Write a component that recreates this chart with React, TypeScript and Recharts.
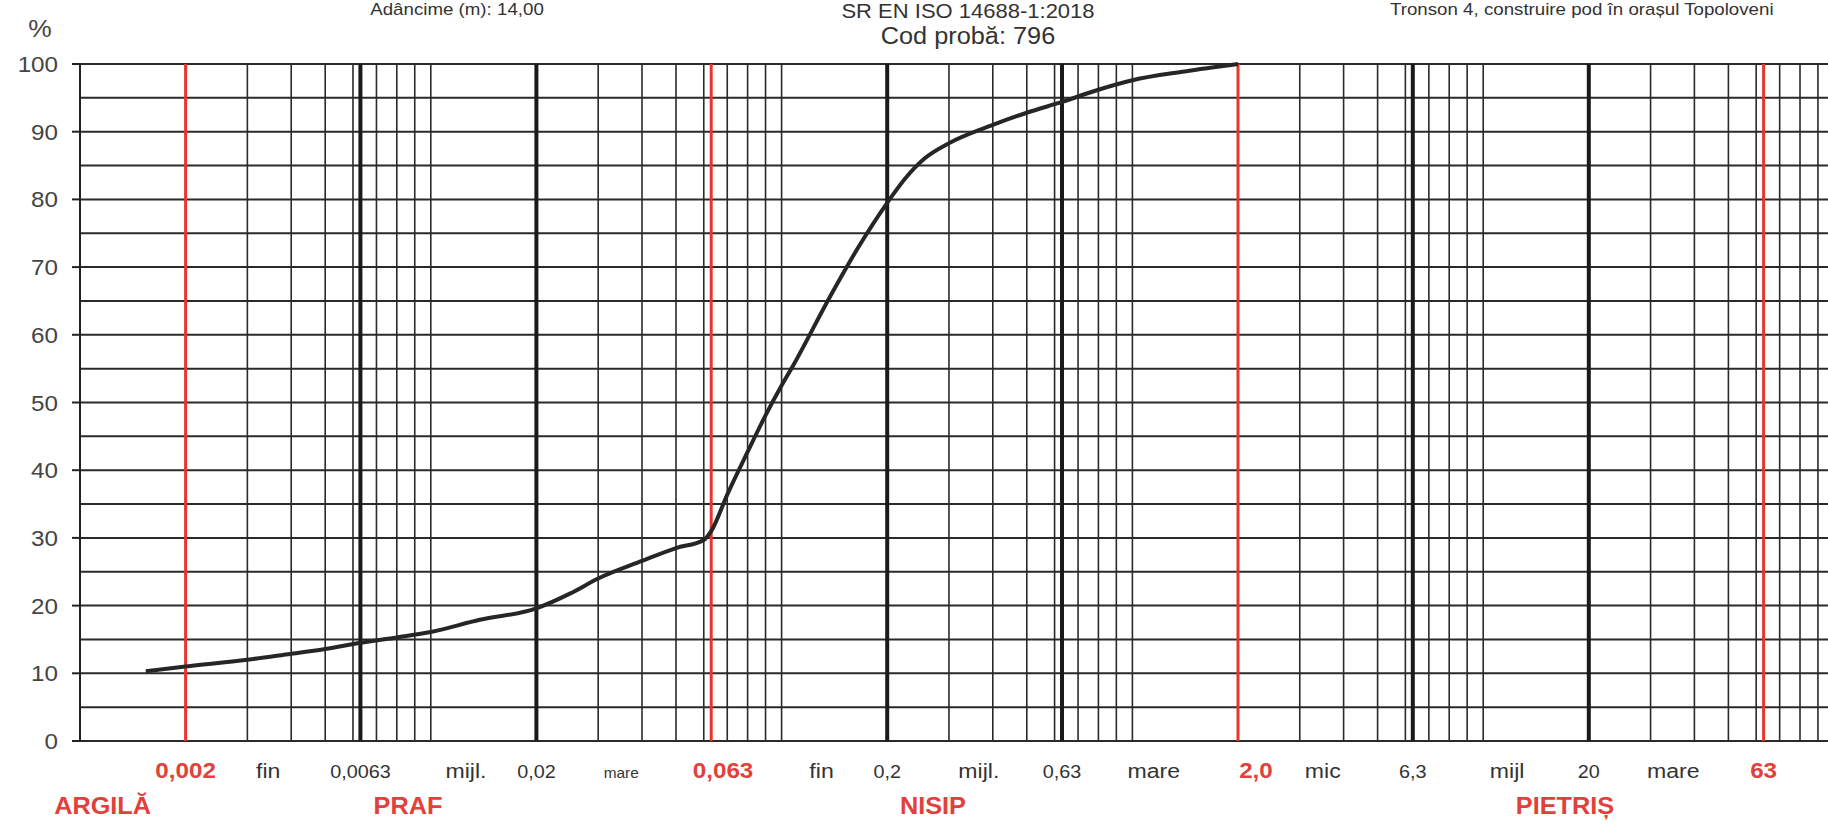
import React from 'react';
import { LineChart, Line, XAxis, YAxis, ReferenceLine } from 'recharts';

// grain size (mm) and percent passing
const diameters = [0.00154, 0.002, 0.003, 0.004, 0.005, 0.0063, 0.008, 0.01, 0.0138, 0.02, 0.025, 0.03, 0.04, 0.05, 0.06, 0.063, 0.07, 0.08, 0.09, 0.1, 0.108, 0.138, 0.164, 0.2, 0.226, 0.255, 0.3, 0.4, 0.5, 0.63, 0.8, 1.0, 1.41, 2.0];
const passing = [10.3, 11.0, 12.0, 12.9, 13.6, 14.5, 15.3, 16.1, 17.9, 19.6, 21.8, 24.0, 26.6, 28.5, 29.7, 31.0, 36.4, 42.7, 48.1, 52.5, 55.5, 65.8, 72.6, 79.5, 83.2, 86.0, 88.3, 91.0, 92.8, 94.4, 96.2, 97.6, 98.9, 100];

const yTicks = [0, 10, 20, 30, 40, 50, 60, 70, 80, 90, 100];
const hLines = [0, 5, 10, 15, 20, 25, 30, 35, 40, 45, 50, 55, 60, 65, 70, 75, 80, 85, 90, 95, 100];

const decades = [0.001, 0.01, 0.1, 1, 10];
const mantissas = [1, 2, 3, 4, 5, 6, 7, 8, 9];
const extraLines = [0.0063, 0.63, 6.3];
const heavyLines = [0.0063, 0.02, 0.2, 0.63, 6.3, 20];
const boundaryLines = [0.002, 0.063, 2, 63];

// bottom labels: size values and sub-fraction names, placed by grain size
const sizeLabels = ['0,002', 'fin', '0,0063', 'mijl.', '0,02', 'mare', '0,063', 'fin', '0,2', 'mijl.', '0,63', 'mare', '2,0', 'mic', '6,3', 'mijl', '20', 'mare', '63'];
const sizeLabelPos = [0.002, 0.00344, 0.0063, 0.0126, 0.02, 0.0349, 0.0681, 0.13, 0.2, 0.365, 0.63, 1.15, 2.25, 3.49, 6.3, 11.7, 20, 34.8, 63];
const boundaryLabels = ['0,002', '0,063', '2,0', '63'];
const fractionLabels = ['ARGILĂ', 'PRAF', 'NISIP', 'PIETRIȘ'];
const fractionPos = [0.00116, 0.00861, 0.27, 17.1];

const data = diameters.map((d, i) => ({ d, p: passing[i] }));

const gridLines = decades
  .flatMap((d) => mantissas.map((m) => +(d * m).toPrecision(3)))
  .concat(extraLines)
  .filter((v) => !heavyLines.includes(v) && !boundaryLines.includes(v));

const FONT = '"Liberation Sans", Arial, sans-serif';
const RED = '#e2403a';
const INK = '#333';
const STRETCH = 1.1;

const words = ['fin', 'mijl.', 'mijl', 'mare', 'mic'];

const SizeTick = (props: any) => {
  const { x, y, payload } = props;
  const v = payload.value;
  const i = sizeLabelPos.indexOf(v);
  if (i >= 0) {
    const label = sizeLabels[i];
    const red = boundaryLabels.includes(label);
    let size = 18;
    if (red) size = 22;
    else if (words.includes(label)) size = i === 5 ? 14 : 21;
    return (
      <text
        transform={`translate(${x},${y + 37}) scale(${STRETCH},1)`}
        textAnchor="middle"
        fontFamily={FONT}
        fontSize={size}
        fontWeight={red ? 'bold' : 'normal'}
        fill={red ? RED : INK}
      >
        {label}
      </text>
    );
  }
  const j = fractionPos.indexOf(v);
  if (j >= 0) {
    return (
      <text
        transform={`translate(${x},${y + 73}) scale(${STRETCH},1)`}
        textAnchor="middle"
        fontFamily={FONT}
        fontSize={23}
        fontWeight="bold"
        fill={RED}
      >
        {fractionLabels[j]}
      </text>
    );
  }
  return null;
};

const PctTick = (props: any) => {
  const { x, y, payload } = props;
  return (
    <text
      transform={`translate(${x},${y + 8}) scale(${STRETCH},1)`}
      textAnchor="end"
      fontFamily={FONT}
      fontSize={22}
      fill="#444"
    >
      {payload.value}
    </text>
  );
};

const head = (left: number, top: number, size: number, center = true): React.CSSProperties => ({
  position: 'absolute',
  left,
  top,
  fontFamily: FONT,
  fontSize: size,
  lineHeight: 1,
  color: INK,
  whiteSpace: 'nowrap',
  transform: `${center ? 'translateX(-50%) ' : ''}scaleX(${STRETCH})`,
  transformOrigin: center ? 'center' : 'left',
});

export default function App() {
  return (
    <div style={{ position: 'fixed', left: 0, top: 0, width: 1828, height: 834, overflow: 'hidden', background: '#fff' }}>
      <div style={head(457, 1, 17)}>Adâncime (m): 14,00</div>
      <div style={head(968, 1, 20)}>SR EN ISO 14688-1:2018</div>
      <div style={head(968, 25, 23)}>Cod probă: 796</div>
      <div style={head(1390, 1, 17, false)}>Tronson 4, construire pod în orașul Topoloveni</div>
      <div style={{ ...head(40, 17, 24), color: '#444' }}>%</div>
      <LineChart width={1840} height={834} data={data} margin={{ top: 64, right: 6, bottom: 0, left: 0 }}>
        <XAxis
          dataKey="d"
          type="number"
          scale="log"
          domain={[0.001, 100]}
          allowDataOverflow
          ticks={[...sizeLabelPos, ...fractionPos]}
          interval={0}
          tick={<SizeTick />}
          tickLine={false}
          axisLine={false}
          tickSize={0}
          tickMargin={0}
          height={93}
        />
        <YAxis
          type="number"
          domain={[0, 100]}
          ticks={yTicks}
          interval={0}
          width={80}
          tickSize={8}
          tickMargin={14}
          tick={<PctTick />}
          axisLine={{ stroke: '#222', strokeWidth: 2 }}
          tickLine={{ stroke: '#222', strokeWidth: 2 }}
        />
        {hLines.map((v) => (
          <ReferenceLine key={'h' + v} y={v} stroke="#2a2a2a" strokeWidth={2} />
        ))}
        {gridLines.map((v) => (
          <ReferenceLine key={'v' + v} x={v} stroke="#2a2a2a" strokeWidth={1.6} />
        ))}
        {heavyLines.map((v) => (
          <ReferenceLine key={'k' + v} x={v} stroke="#1a1a1a" strokeWidth={4} />
        ))}
        {boundaryLines.map((v) => (
          <ReferenceLine key={'r' + v} x={v} stroke="#e8352e" strokeWidth={3} />
        ))}
        <Line type="monotone" dataKey="p" stroke="#262626" strokeWidth={4} dot={false} isAnimationActive={false} />
      </LineChart>
    </div>
  );
}
